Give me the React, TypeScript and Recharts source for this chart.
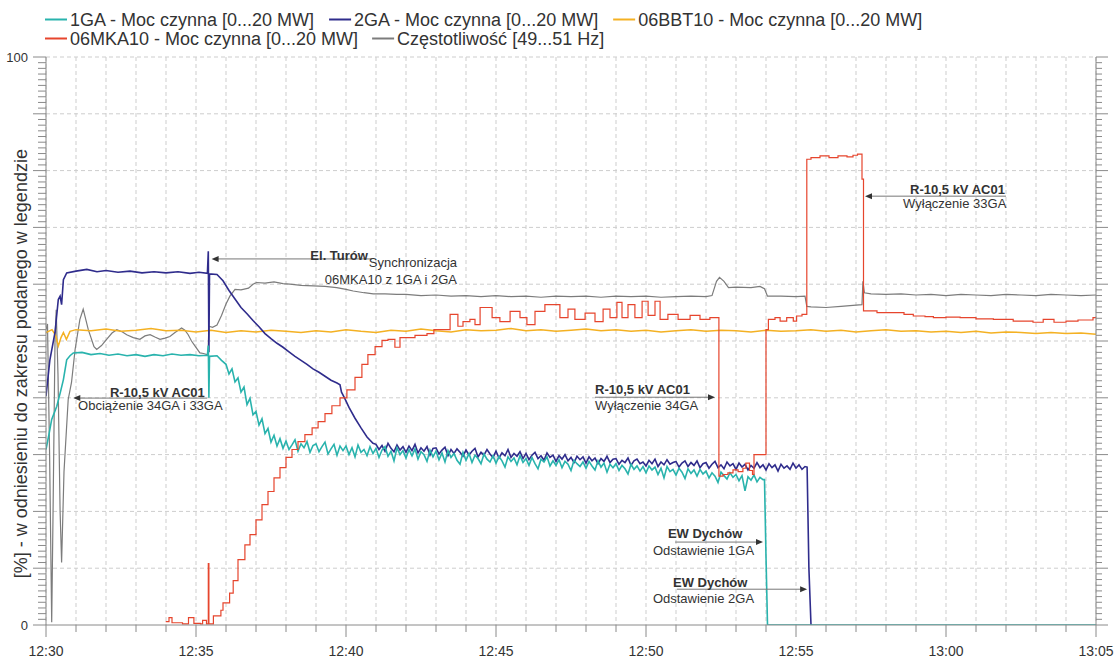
import React from 'react';
import { LineChart, Line, XAxis, YAxis, CartesianGrid, ReferenceLine } from 'recharts';

// ---------- layout ----------
const W = 1116;
const H = 662;
const PLOT_X0 = 46;
const PLOT_W = 1050;
const PLOT_Y0 = 57;
const PLOT_H = 568;
const T_MAX = 35;
const FONT = '"Liberation Sans", Arial, sans-serif';

// ---------- axis labels ----------
const xTickLabels = ['12:30', '12:35', '12:40', '12:45', '12:50', '12:55', '13:00', '13:05'];
const yTickLabels = ['0', '100'];
const yAxisTitle = '[%] - w odniesieniu do zakresu podanego w legendzie';

// ---------- series names / colours ----------
const seriesNames = [
  '1GA - Moc czynna [0...20 MW]',
  '2GA - Moc czynna [0...20 MW]',
  '06BBT10 - Moc czynna [0...20 MW]',
  '06MKA10 - Moc czynna [0...20 MW]',
  'Częstotliwość [49...51 Hz]',
];
const seriesColors = ['#29b3ad', '#2f2c8c', '#f4b123', '#e6452d', '#7c7c7c'];

// time t = minutes after 12:30, value = % of the range given in the legend

// 1GA
const ga1Head = [
  [0, 30.9], [0.1, 33.6], [0.19, 36.2], [0.36, 38.5], [0.48, 41.0], [0.58, 43.2], [0.69, 46.7], [0.8, 47.4], [0.91, 47.9],
  [1.2, 48.0], [1.5, 47.6], [1.8, 47.8], [2.1, 47.5], [2.4, 47.7], [2.7, 47.4], [3.0, 47.6], [3.3, 47.3], [3.6, 47.6],
  [3.9, 47.4], [4.2, 47.7], [4.5, 47.5], [4.8, 47.6], [5.1, 47.4], [5.38, 47.5], [5.41, 49.2], [5.43, 40.0], [5.45, 47.3],
  [5.7, 47.4], [5.85, 46.6],
];
const GA1_BAND_START = 6.0;
const ga1Band = [
  45.9, 44.2, 45.1, 42.8, 43.5, 41.0, 41.9, 38.8, 39.9, 37.0,
  37.6, 35.2, 36.3, 33.7, 34.6, 32.2, 33.4, 31.5, 32.8, 31.1,
  32.4, 30.9, 31.7, 32.6, 30.6, 31.9, 31.2, 32.3, 30.4, 31.6,
  31.9, 30.5, 31.4, 32.2, 30.1, 31.0, 31.8, 29.9, 31.5, 30.7,
  31.5, 30.0, 31.2, 29.6, 31.7, 30.4, 30.9, 29.8, 31.4, 30.2,
  31.1, 29.5, 30.8, 31.4, 29.7, 30.6, 28.9, 31.2, 30.0, 30.7,
  29.4, 30.9, 29.8, 31.0, 29.2, 30.5, 30.0, 28.8, 30.8, 29.6,
  30.6, 29.1, 30.3, 28.7, 30.7, 29.5, 30.2, 29.0, 28.3, 30.4,
  29.0, 30.2, 28.6, 29.9, 29.3, 28.4, 30.1, 29.2, 28.7, 29.8,
  28.5, 29.7, 28.9, 27.8, 29.6, 28.8, 29.4, 28.2, 29.8, 28.6,
  29.3, 28.1, 29.5, 28.4, 27.5, 29.2, 28.7, 29.6, 28.0, 28.9,
  28.1, 29.1, 27.7, 28.8, 28.3, 27.2, 29.0, 28.4, 27.9, 28.7,
  27.6, 28.8, 28.0, 27.3, 28.9, 27.8, 28.5, 26.9, 28.3, 27.7,
  28.4, 27.2, 28.1, 27.5, 26.6, 28.3, 27.4, 28.0, 27.1, 27.9,
  26.8, 28.0, 27.3, 27.8, 26.5, 27.6, 25.9, 27.9, 27.0, 27.4,
  26.4, 27.6, 26.9, 25.8, 27.5, 26.7, 27.3, 26.2, 27.4, 26.6,
  27.1, 25.9, 26.8, 26.2, 25.1, 26.9, 26.3, 25.7, 26.8, 26.0,
  26.5, 25.4, 26.3, 23.6, 26.1, 25.5, 26.4, 25.2, 26.0, 25.6,
];
const ga1Tail = [[23.95, 25.6], [24.0, 12.0], [24.05, 0], [35, 0]];

// 2GA
const ga2Head = [
  [0, 40.3], [0.13, 46.7], [0.3, 51.5], [0.41, 57.3], [0.47, 57.9], [0.52, 56.4], [0.58, 60.8], [0.69, 62.0], [1.0, 62.3],
  [1.36, 62.6], [1.7, 62.2], [2.0, 62.4], [2.4, 62.1], [2.8, 62.3], [3.2, 62.0], [3.6, 62.2], [4.0, 62.0], [4.4, 62.2],
  [4.8, 61.9], [5.1, 62.1], [5.38, 61.9], [5.41, 65.8], [5.43, 48.0], [5.45, 61.8], [5.7, 61.7],
  [5.9, 60.6], [6.1, 58.9], [6.3, 57.4], [6.5, 55.9], [6.7, 54.8], [6.9, 53.6], [7.1, 52.5], [7.3, 51.3], [7.5, 50.4],
  [7.7, 49.6], [7.9, 48.9], [8.1, 48.1], [8.3, 47.3], [8.5, 46.6], [8.7, 45.9], [8.9, 45.1], [9.1, 44.5], [9.3, 43.8],
  [9.5, 43.1], [9.7, 42.6], [9.8, 42.3], [9.85, 41.0], [9.95, 40.0], [10.1, 38.3], [10.3, 36.4], [10.5, 34.7],
  [10.7, 33.1], [10.9, 32.0],
];
const GA2_BAND_START = 11.0;
const ga2Band = [
  31.8, 30.9, 31.6, 30.6, 32.0, 31.1, 30.5, 31.7, 30.8, 31.4,
  30.4, 31.5, 30.7, 31.8, 30.3, 31.2, 30.6, 31.4, 29.9, 31.1,
  31.2, 30.1, 30.8, 31.3, 29.8, 30.9, 30.2, 31.0, 30.4, 29.7,
  30.8, 29.9, 30.6, 31.1, 29.6, 30.4, 29.9, 30.9, 30.1, 29.5,
  30.6, 29.4, 30.3, 29.8, 30.9, 29.5, 30.2, 29.7, 30.5, 29.3,
  30.2, 29.1, 29.9, 30.4, 29.3, 29.8, 29.0, 30.3, 29.5, 29.9,
  28.8, 29.8, 29.2, 30.0, 28.9, 29.5, 28.6, 29.7, 29.1, 29.6,
  28.5, 29.6, 28.9, 29.4, 28.4, 29.3, 28.8, 29.7, 28.6, 29.2,
  29.3, 28.3, 29.0, 28.6, 29.4, 28.1, 28.9, 29.2, 28.4, 28.7,
  28.0, 29.0, 28.4, 29.2, 27.9, 28.7, 28.2, 29.1, 28.3, 28.6,
  28.8, 27.8, 28.5, 28.9, 27.9, 28.6, 28.1, 28.9, 27.7, 28.4,
  28.6, 27.6, 28.3, 28.8, 27.7, 28.2, 27.5, 28.7, 28.0, 28.4,
  27.4, 28.5, 27.8, 28.3, 27.3, 28.1, 27.6, 28.6, 27.7, 28.2,
  27.3, 28.4, 27.7, 28.2, 27.1, 28.3, 27.6, 28.0, 27.4, 28.5,
  27.6, 28.2, 27.4, 27.9,
];
const ga2Tail = [[25.37, 27.8], [25.43, 10.0], [25.5, 0]];

// 06BBT10
const bbtHead = [[0, 51.5], [0.2, 52.0], [0.32, 51.0], [0.41, 49.1], [0.5, 50.6], [0.58, 51.5], [0.68, 50.3], [0.8, 51.7]];
const BBT_BAND_START = 1.0;
const bbtBand = [
  52.0, 51.8, 52.1, 51.7, 51.9, 52.2, 51.8, 51.9, 51.6, 51.9,
  51.5, 51.8, 51.6, 51.9, 51.7, 51.5, 51.8, 51.6, 52.0, 51.7,
  51.5, 51.9, 51.7, 52.1, 51.8, 51.6, 52.0, 51.8, 51.9, 52.2,
  51.8, 52.0, 51.7, 51.9, 52.1, 51.8, 52.0, 51.7, 51.9, 51.6,
  51.8, 52.0, 51.7, 51.9, 51.8, 51.6, 51.9, 51.7, 51.8, 52.0,
  51.7, 51.9, 51.6, 51.8, 52.0, 51.7, 51.8, 51.6, 51.7, 51.5,
  51.7, 51.4, 51.6, 51.5, 51.3, 51.5, 51.3, 51.4, 51.2,
];

// 06MKA10 (stepped)
const mkaPoints = [
  [3.99, 0.6], [4.1, 1.3], [4.2, 0.4], [4.55, 0.2], [4.75, 1.3], [4.93, 0.3], [5.15, 0.2], [5.22, 0.8], [5.35, 0.2],
  [5.41, 10.8], [5.43, 0.2], [5.58, 1.6], [5.83, 2.6], [5.9, 3.9], [6.12, 5.6], [6.24, 7.8], [6.4, 11.5], [6.63, 14.1],
  [6.8, 15.9], [7.0, 18.5], [7.2, 21.2], [7.4, 23.5], [7.6, 25.9], [7.8, 27.7], [8.0, 29.5], [8.2, 30.9], [8.4, 32.3],
  [8.63, 33.5], [8.87, 34.7], [9.07, 35.8], [9.3, 37.2], [9.53, 38.6], [9.8, 40.0], [10.03, 41.4], [10.3, 43.6],
  [10.53, 45.9], [10.73, 47.6], [10.97, 49.0], [11.2, 50.1], [11.4, 50.3], [11.63, 48.9], [11.8, 50.6], [12.3, 51.0],
  [12.7, 51.3], [12.93, 52.0], [13.47, 54.7], [13.73, 52.6], [13.9, 53.4], [14.13, 53.8], [14.3, 52.9], [14.47, 55.9],
  [14.87, 54.1], [15.13, 53.4], [15.47, 55.2], [15.8, 54.1], [16.03, 52.9], [16.3, 55.2], [16.63, 56.4], [17.13, 54.1],
  [17.4, 55.6], [17.63, 53.8], [17.97, 54.9], [18.3, 53.4], [18.57, 55.6], [18.8, 54.1], [19.03, 56.8], [19.2, 54.1],
  [19.4, 56.4], [19.63, 54.1], [19.87, 57.0], [20.07, 54.5], [20.3, 57.0], [20.47, 53.8], [20.73, 54.7], [21.07, 53.8],
  [21.47, 54.5], [21.8, 53.8], [22.13, 54.1], [22.43, 26.2], [22.57, 26.5], [22.73, 26.8], [22.9, 27.3], [23.07, 27.0],
  [23.23, 27.6], [23.33, 28.5], [23.45, 27.2], [23.55, 26.5], [23.6, 30.0], [24.0, 52.0], [24.08, 53.8], [24.3, 54.1],
  [24.47, 53.5], [24.69, 54.1], [24.91, 53.5], [25.02, 54.4], [25.2, 54.7], [25.36, 82.0], [25.5, 82.3], [25.8, 82.6],
  [26.1, 82.3], [26.4, 82.6], [26.7, 82.4], [26.9, 82.7], [27.05, 82.9], [27.2, 78.5], [27.25, 55.3], [27.7, 55.0],
  [28.24, 55.0], [28.6, 54.7], [28.91, 54.4], [29.3, 54.3], [29.58, 54.1], [30.0, 54.2], [30.47, 54.1], [31.0, 53.9],
  [31.58, 53.8], [32.24, 53.5], [32.9, 53.3], [33.24, 53.8], [33.6, 53.3], [34.0, 53.5], [34.4, 53.7], [34.9, 54.1],
  [35.0, 54.1],
];

// Częstotliwość
const freqPoints = [
  [0, 52.0], [0.05, 53.0], [0.12, 30.0], [0.19, 0.5], [0.24, 22.0], [0.3, 50.0], [0.34, 55.5], [0.4, 44.0], [0.47, 20.0],
  [0.52, 11.0], [0.6, 27.0], [0.74, 39.7], [0.85, 42.7], [0.97, 48.5], [1.13, 53.8], [1.24, 55.6], [1.41, 52.0],
  [1.6, 49.0], [1.69, 48.5], [1.85, 49.2], [2.02, 50.3], [2.2, 51.4], [2.36, 52.0], [2.55, 51.6], [2.69, 51.1],
  [2.91, 50.6], [3.13, 50.3], [3.3, 50.9], [3.47, 51.1], [3.63, 50.7], [3.8, 50.3], [3.97, 50.5], [4.13, 50.8],
  [4.3, 51.5], [4.52, 52.3], [4.63, 51.9], [4.74, 51.1], [4.85, 50.0], [4.97, 49.1], [5.13, 47.9], [5.25, 47.8],
  [5.36, 47.6], [5.4, 47.8], [5.43, 52.6], [5.55, 52.4], [5.7, 52.8], [5.85, 54.5], [6.0, 56.5], [6.13, 57.9],
  [6.3, 59.1], [6.5, 59.0], [6.75, 59.3], [6.9, 60.0], [7.02, 60.3], [7.3, 60.2], [7.6, 60.4], [7.9, 60.1], [8.13, 60.0],
  [8.5, 59.8], [8.91, 59.7], [9.3, 59.6], [9.69, 59.4], [10.0, 59.1], [10.24, 58.8], [10.6, 58.5], [10.91, 58.3],
  [11.3, 58.3], [11.69, 58.2], [12.0, 58.2], [12.5, 58.0], [13.0, 58.1], [13.5, 57.9], [14.0, 58.0], [14.5, 57.8],
  [15.0, 58.0], [15.5, 57.8], [16.0, 57.9], [16.5, 57.7], [17.0, 57.9], [17.5, 57.8], [18.0, 57.9], [18.5, 57.7],
  [19.0, 57.9], [19.5, 57.8], [20.0, 57.9], [20.5, 57.7], [21.0, 57.8], [21.5, 57.9], [22.0, 57.8], [22.2, 58.0],
  [22.35, 60.5], [22.45, 61.2], [22.6, 60.5], [22.75, 59.4], [23.0, 59.5], [23.5, 59.4], [23.8, 59.6], [23.95, 59.2],
  [24.05, 57.9], [24.5, 57.9], [25.0, 57.8], [25.3, 57.9], [25.36, 56.1], [25.5, 56.0], [26.0, 55.9], [26.5, 56.1],
  [27.0, 56.3], [27.2, 56.4], [27.23, 60.5], [27.28, 58.5], [27.5, 58.3], [28.0, 58.2], [28.5, 58.3], [29.0, 58.1],
  [29.5, 58.2], [30.0, 58.0], [30.5, 58.2], [31.0, 58.1], [31.5, 58.0], [32.0, 58.2], [32.5, 58.1], [33.0, 58.0],
  [33.5, 58.2], [34.0, 58.1], [34.5, 58.0], [35.0, 58.1],
];

// ---------- annotations (data coordinates) ----------
const notes = [
  { title: 'El. Turów', tt: 10.73, tv: 64.2, tAnchor: 'end', lines: ['Synchronizacja', '06MKA10 z 1GA i 2GA'], lt: 13.7, lv: [63.0, 60.1], lAnchor: 'end', from: 10.87, to: 5.52, av: 64.45 },
  { title: 'R-10,5 kV AC01', tt: 2.13, tv: 40.2, tAnchor: 'start', lines: ['Obciążenie 34GA i 33GA'], lt: 1.07, lv: [37.9], lAnchor: 'start', from: 5.37, to: 0.91, av: 39.95 },
  { title: 'R-10,5 kV AC01', tt: 18.3, tv: 40.6, tAnchor: 'start', lines: ['Wyłączenie 34GA'], lt: 18.3, lv: [37.9], lAnchor: 'start', from: 18.3, to: 22.3, av: 40.1 },
  { title: 'R-10,5 kV AC01', tt: 28.8, tv: 75.8, tAnchor: 'start', lines: ['Wyłączenie 33GA'], lt: 28.57, lv: [73.5], lAnchor: 'start', from: 32.0, to: 27.3, av: 75.5 },
  { title: 'EW Dychów', tt: 20.73, tv: 15.3, tAnchor: 'start', lines: ['Odstawienie 1GA'], lt: 20.23, lv: [12.35], lAnchor: 'start', from: 20.97, to: 23.9, av: 14.6 },
  { title: 'EW Dychów', tt: 20.9, tv: 6.7, tAnchor: 'start', lines: ['Odstawienie 2GA'], lt: 20.23, lv: [3.9], lAnchor: 'start', from: 21.03, to: 25.37, av: 6.3 },
];

// ---------- builders ----------
type P = { t: number; v: number };
const fromPairs = (arr: number[][]): P[] => arr.map(([t, v]) => ({ t, v }));
const fromBand = (start: number, step: number, vals: number[]): P[] =>
  vals.map((v, i) => ({ t: Math.round((start + i * step) * 1000) / 1000, v }));

const ga1Data = [...fromPairs(ga1Head), ...fromBand(GA1_BAND_START, 0.1, ga1Band), ...fromPairs(ga1Tail)];
const ga2Data = [...fromPairs(ga2Head), ...fromBand(GA2_BAND_START, 0.1, ga2Band), ...fromPairs(ga2Tail)];
const bbtData = [...fromPairs(bbtHead), ...fromBand(BBT_BAND_START, 0.5, bbtBand)];
const mkaData = fromPairs(mkaPoints);
const freqData = fromPairs(freqPoints);

const minuteTicks = Array.from({ length: T_MAX + 1 }, (_, i) => i);
const percentTicks = Array.from({ length: 101 }, (_, i) => i);
const gridValues = Array.from({ length: 10 }, (_, i) => (i + 1) * 10);

const X = (t: number) => PLOT_X0 + (t / T_MAX) * PLOT_W;
const Y = (v: number) => PLOT_Y0 + PLOT_H - (v / 100) * PLOT_H;

const AXIS = '#8a8a8a';
const TEXT = '#333333';

const XTick = (props: any) => {
  const { x, y, payload } = props;
  const major = payload.value % 5 === 0;
  return (
    <g>
      <line x1={x} x2={x} y1={y} y2={y + (major ? 12 : 7)} stroke={AXIS} strokeWidth={1} />
      {major && (
        <text x={x} y={y + 31} textAnchor="middle" fontSize={14} fontFamily={FONT} fill={TEXT}>
          {xTickLabels[payload.value / 5]}
        </text>
      )}
    </g>
  );
};

const YTickLeft = (props: any) => {
  const { x, y, payload } = props;
  const major = payload.value % 10 === 0;
  const lbl = payload.value === 0 ? yTickLabels[0] : payload.value === 100 ? yTickLabels[1] : null;
  return (
    <g>
      <line x1={x - (major ? 13 : 8)} x2={x} y1={y} y2={y} stroke={AXIS} strokeWidth={1} />
      {lbl && (
        <text x={x - 18} y={y + 4.5} textAnchor="end" fontSize={13} fontFamily={FONT} fill={TEXT}>
          {lbl}
        </text>
      )}
    </g>
  );
};

const YTickRight = (props: any) => {
  const { x, y, payload } = props;
  const major = payload.value % 10 === 0;
  return <line x1={x} x2={x + (major ? 12 : 6)} y1={y} y2={y} stroke={AXIS} strokeWidth={1} />;
};

const Arrow = ({ x1, x2, y }: { x1: number; x2: number; y: number }) => {
  const d = x2 > x1 ? 1 : -1;
  return (
    <g>
      <line x1={x1} y1={y} x2={x2 - d * 5} y2={y} stroke="#777" strokeWidth={1} />
      <polygon points={`${x2},${y} ${x2 - d * 7},${y - 3} ${x2 - d * 7},${y + 3}`} fill="#333" />
    </g>
  );
};

// legend: items flow left to right in two rows
const legendRows = [[0, 1, 2], [3, 4]];
const LEGEND_X0 = 45;
const LEGEND_Y = [19.5, 38.5];
const LEGEND_FS = 18;
const LEGEND_GAP = 14;
const DASH = 22;

const textWidth = (() => {
  let ctx: CanvasRenderingContext2D | null = null;
  return (s: string) => {
    if (!ctx && typeof document !== 'undefined') ctx = document.createElement('canvas').getContext('2d');
    if (!ctx) return s.length * LEGEND_FS * 0.5;
    ctx.font = `${LEGEND_FS}px "Liberation Sans", Arial, sans-serif`;
    return ctx.measureText(s).width;
  };
})();

const Legend2 = () => {
  const out: React.ReactNode[] = [];
  legendRows.forEach((row, r) => {
    let x = LEGEND_X0;
    row.forEach((i) => {
      const y = LEGEND_Y[r];
      out.push(
        <g key={i}>
          <line x1={x} x2={x + DASH} y1={y} y2={y} stroke={seriesColors[i]} strokeWidth={2} />
          <text x={x + DASH + 3} y={y + 6.5} fontSize={LEGEND_FS} fontFamily={FONT} fill={TEXT}>
            {seriesNames[i]}
          </text>
        </g>
      );
      x += DASH + 3 + textWidth(seriesNames[i]) + LEGEND_GAP;
    });
  });
  return <g>{out}</g>;
};

const Overlay = () => (
  <svg width={W} height={H} style={{ position: 'absolute', left: 0, top: 0, pointerEvents: 'none' }}>
    <Legend2 />
    {/* y axis title */}
    <text
      transform={`translate(27, ${Y(46)}) rotate(-90)`}
      textAnchor="middle"
      fontSize={18}
      fontFamily={FONT}
      fill={TEXT}
    >
      {yAxisTitle}
    </text>
    {/* annotations */}
    {notes.map((n, i) => (
      <g key={i} fontFamily={FONT} fontSize={13} fill={TEXT}>
        <Arrow x1={X(n.from)} x2={X(n.to)} y={Y(n.av)} />
        <text x={X(n.tt)} y={Y(n.tv)} textAnchor={n.tAnchor as any} fontWeight="bold">
          {n.title}
        </text>
        {n.lines.map((l, j) => (
          <text key={j} x={X(n.lt)} y={Y(n.lv[j])} textAnchor={n.lAnchor as any}>
            {l}
          </text>
        ))}
      </g>
    ))}
  </svg>
);

export default function App() {
  return (
    <div style={{ position: 'absolute', left: 0, top: 0, width: W, height: H, background: '#fff' }}>
      <LineChart width={W} height={H} margin={{ top: PLOT_Y0, right: 0, bottom: 0, left: 0 }}>
        <CartesianGrid horizontal={false} stroke="#cdcdcd" strokeDasharray="4 3" />
        {gridValues.map((v) => (
          <ReferenceLine key={v} y={v} stroke="#cdcdcd" strokeDasharray="4 3" />
        ))}
        <XAxis
          dataKey="t"
          type="number"
          domain={[0, T_MAX]}
          ticks={minuteTicks}
          interval={0}
          height={H - PLOT_Y0 - PLOT_H}
          tickSize={0}
          tickMargin={0}
          tickLine={false}
          axisLine={{ stroke: AXIS }}
          tick={(p: any) => <XTick {...p} />}
          allowDataOverflow
        />
        <YAxis
          type="number"
          domain={[0, 100]}
          ticks={percentTicks}
          interval={0}
          width={PLOT_X0}
          tickSize={0}
          tickMargin={0}
          tickLine={false}
          axisLine={{ stroke: AXIS }}
          tick={(p: any) => <YTickLeft {...p} />}
          allowDataOverflow
        />
        <YAxis
          yAxisId="r"
          orientation="right"
          type="number"
          domain={[0, 100]}
          ticks={percentTicks}
          interval={0}
          width={W - PLOT_X0 - PLOT_W}
          tickSize={0}
          tickMargin={0}
          tickLine={false}
          axisLine={{ stroke: AXIS }}
          tick={(p: any) => <YTickRight {...p} />}
          allowDataOverflow
        />
        <Line data={freqData} dataKey="v" name={seriesNames[4]} stroke={seriesColors[4]} strokeWidth={1.2} dot={false} isAnimationActive={false} type="linear" />
        <Line data={bbtData} dataKey="v" name={seriesNames[2]} stroke={seriesColors[2]} strokeWidth={1.5} dot={false} isAnimationActive={false} type="linear" />
        <Line data={ga2Data} dataKey="v" name={seriesNames[1]} stroke={seriesColors[1]} strokeWidth={1.6} dot={false} isAnimationActive={false} type="linear" />
        <Line data={ga1Data} dataKey="v" name={seriesNames[0]} stroke={seriesColors[0]} strokeWidth={1.6} dot={false} isAnimationActive={false} type="linear" />
        <Line data={mkaData} dataKey="v" name={seriesNames[3]} stroke={seriesColors[3]} strokeWidth={1.2} dot={false} isAnimationActive={false} type="stepAfter" />
      </LineChart>
      <Overlay />
    </div>
  );
}
